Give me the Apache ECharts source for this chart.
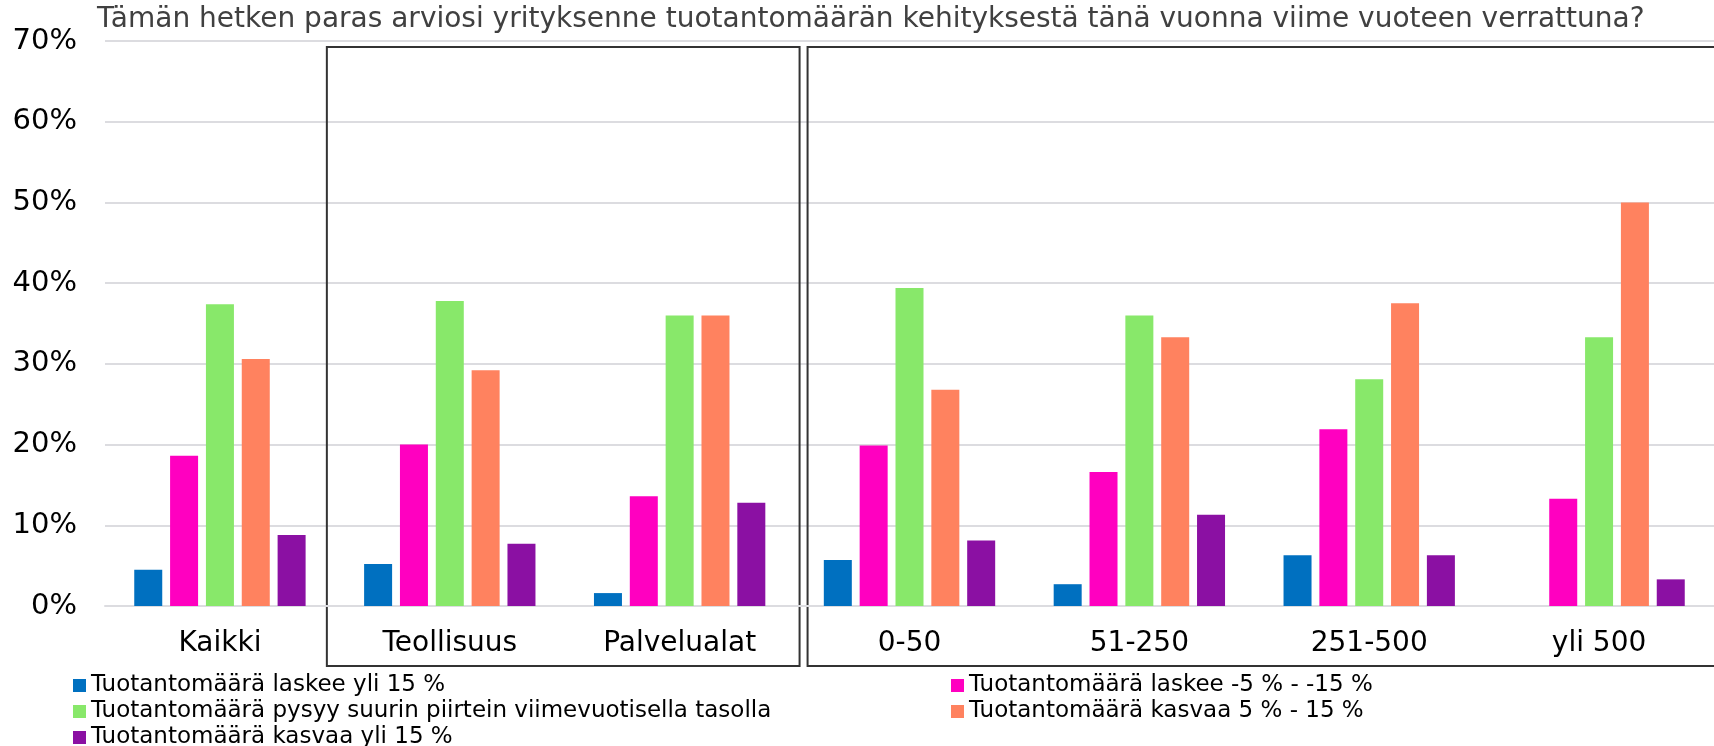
<!DOCTYPE html>
<html>
<head>
<meta charset="utf-8">
<script src="https://cdn.jsdelivr.net/npm/echarts@6/dist/echarts.min.js"></script>
<style>
  html, body { margin: 0; padding: 0; background: #fff; }
  #chart { width: 1714px; height: 746px; }
</style>
</head>
<body>
<div id="chart"></div>
<script>
// categories and series (percent of answers)
const categories = ['Kaikki', 'Teollisuus', 'Palvelualat', '0-50', '51-250', '251-500', 'yli 500']
const seriesNames = [
  'Tuotantomäärä laskee yli 15 %',
  'Tuotantomäärä laskee -5 % - -15 %',
  'Tuotantomäärä pysyy suurin piirtein viimevuotisella tasolla',
  'Tuotantomäärä kasvaa 5 % - 15 %',
  'Tuotantomäärä kasvaa yli 15 %'
]
const laskeeYli15 = [4.5, 5.2, 1.6, 5.7, 2.7, 6.3, 0]
const laskee5to15 = [18.6, 20.0, 13.6, 19.9, 16.6, 21.9, 13.3]
const pysyy = [37.4, 37.8, 36.0, 39.4, 36.0, 28.1, 33.3]
const kasvaa5to15 = [30.6, 29.2, 36.0, 26.8, 33.3, 37.5, 50.0]
const kasvaaYli15 = [8.8, 7.7, 12.8, 8.1, 11.3, 6.3, 3.3]
const yTicks = [0, 10, 20, 30, 40, 50, 60, 70]

const colors = ['#0070c0', '#ff00c0', '#88e86a', '#ff825f', '#8b10a3']
const values = [laskeeYli15, laskee5to15, pysyy, kasvaa5to15, kasvaaYli15]
const font = 'Verdana, "DejaVu Sans", sans-serif'

const chart = echarts.init(document.getElementById('chart'))

const legendText = {
  fontFamily: font,
  fontSize: 23,
  color: '#000',
  lineHeight: 21
}

chart.setOption({
  backgroundColor: '#fff',
  animation: false,
  color: colors,
  title: {
    text: 'Tämän hetken paras arviosi yrityksenne tuotantomäärän kehityksestä tänä vuonna viime vuoteen verrattuna?',
    left: 97,
    top: 6,
    padding: 0,
    textStyle: { fontFamily: font, fontSize: 28, fontWeight: 'normal', color: '#404040' }
  },
  legend: [
    {
      orient: 'vertical',
      left: 73,
      top: 674,
      height: 100,
      padding: 0,
      itemGap: 3,
      itemWidth: 13,
      itemHeight: 13,
      icon: 'rect',
      data: [seriesNames[0], seriesNames[2], seriesNames[4]],
      textStyle: legendText
    },
    {
      orient: 'vertical',
      left: 951,
      top: 674,
      height: 100,
      padding: 0,
      itemGap: 3,
      itemWidth: 13,
      itemHeight: 13,
      icon: 'rect',
      data: [seriesNames[1], seriesNames[3]],
      textStyle: legendText
    }
  ],
  grid: {
    left: 105,
    top: 41,
    width: 1624,
    height: 565,
    containLabel: false
  },
  xAxis: {
    type: 'category',
    data: categories,
    axisTick: { show: false },
    axisLine: { lineStyle: { color: '#dcdce0', width: 2 } },
    axisLabel: {
      margin: 24,
      fontFamily: font,
      fontSize: 28,
      color: '#000'
    }
  },
  yAxis: {
    type: 'value',
    min: yTicks[0],
    max: yTicks[yTicks.length - 1],
    interval: 10,
    axisLine: { show: false },
    axisTick: { show: false },
    splitLine: { lineStyle: { color: '#dcdce0', width: 2 } },
    axisLabel: {
      margin: 28,
      fontFamily: font,
      fontSize: 29,
      color: '#000',
      formatter: '{value}%'
    }
  },
  series: seriesNames.map((name, i) => ({
    name: name,
    type: 'bar',
    data: values[i],
    barWidth: 28,
    barGap: '28%'
  }))
})

// hand-drawn group boxes around the sector and size groups
const cx = i => chart.convertToPixel({ xAxisIndex: 0 }, i)
const band = cx(1) - cx(0)
const yTop = chart.convertToPixel({ yAxisIndex: 0 }, 70) + 6
const yBottom = chart.convertToPixel({ yAxisIndex: 0 }, 0) + 60
const box1Left = cx(1) - band / 2 - 8
const box1Right = cx(2) + band / 2 + 5
const box2Left = cx(3) - band / 2 + 13
const box2Right = cx(6) + band / 2 + 40
const boxStyle = { fill: 'none', stroke: '#333', lineWidth: 2 }

chart.setOption({
  graphic: [
    {
      type: 'rect',
      shape: { x: box1Left, y: yTop, width: box1Right - box1Left, height: yBottom - yTop },
      style: boxStyle,
      silent: true
    },
    {
      type: 'rect',
      shape: { x: box2Left, y: yTop, width: box2Right - box2Left, height: yBottom - yTop },
      style: boxStyle,
      silent: true
    }
  ]
})
</script>
</body>
</html>
